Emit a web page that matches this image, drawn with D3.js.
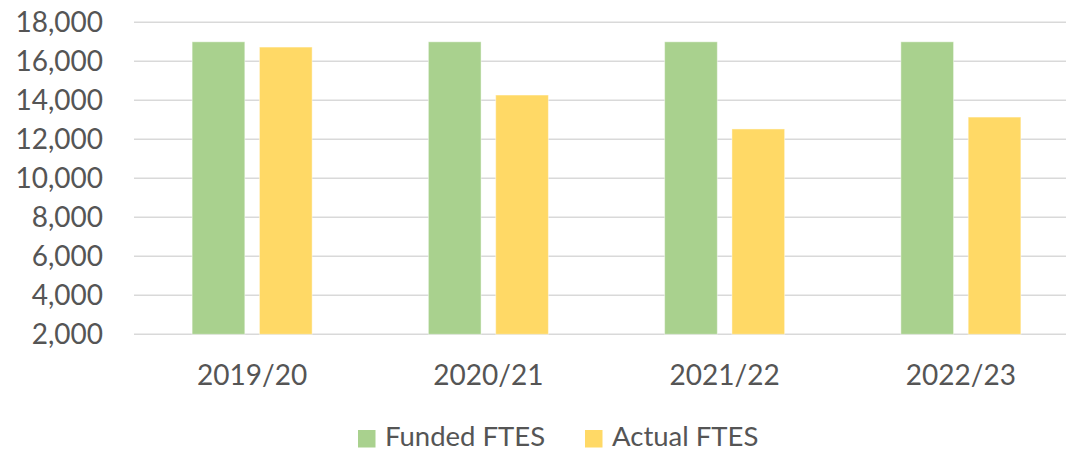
<!DOCTYPE html>
<html>
<head>
<meta charset="utf-8">
<script src="https://cdn.jsdelivr.net/npm/d3@7"></script>
<style>
  body { margin: 0; background: #fff; }
  text { font-family: Lato, "Open Sans", sans-serif; fill: #555555; }
</style>
</head>
<body>
<div id="chart"></div>
<script>
const years = ["2019/20", "2020/21", "2021/22", "2022/23"];
const seriesNames = ["Funded FTES", "Actual FTES"];
const funded = [17000, 17000, 17000, 17000];
const actual = [16730, 14270, 12530, 13140];
const yTicks = [2000, 4000, 6000, 8000, 10000, 12000, 14000, 16000, 18000];

const colors = { "Funded FTES": "#A9D18E", "Actual FTES": "#FFD966" };

const W = 1066, H = 451;
const plot = { left: 134, right: 1079, top: 22.3, bottom: 334.3 };

const svg = d3.select("#chart")
  .append("svg")
  .attr("width", W)
  .attr("height", H);

const x0 = d3.scaleBand()
  .domain(years)
  .range([plot.left, plot.right])
  .paddingInner(0.492)
  .paddingOuter(0.246);

const x1 = d3.scaleBand()
  .domain(seriesNames)
  .range([0, x0.bandwidth()])
  .paddingInner(0.217);

const y = d3.scaleLinear()
  .domain([2000, 18000])
  .range([plot.bottom, plot.top]);

// gridlines
svg.append("g")
  .selectAll("line")
  .data(yTicks)
  .enter()
  .append("line")
  .attr("x1", plot.left)
  .attr("x2", W)
  .attr("y1", d => y(d))
  .attr("y2", d => y(d))
  .attr("stroke", "#d9d9d9")
  .attr("stroke-width", 1.5);

// y labels
svg.append("g")
  .selectAll("text")
  .data(yTicks)
  .enter()
  .append("text")
  .attr("x", 103)
  .attr("y", d => y(d))
  .attr("dy", "0.36em")
  .attr("text-anchor", "end")
  .style("font-size", "28px")
  .text(d => d3.format(",")(d));

const rows = years.map((yr, i) => ({
  year: yr,
  values: [
    { key: "Funded FTES", value: funded[i] },
    { key: "Actual FTES", value: actual[i] }
  ]
}));

const groups = svg.selectAll(".grp")
  .data(rows)
  .enter()
  .append("g")
  .attr("class", "grp")
  .attr("transform", d => `translate(${x0(d.year)},0)`);

groups.selectAll("rect")
  .data(d => d.values)
  .enter()
  .append("rect")
  .attr("x", d => x1(d.key))
  .attr("width", x1.bandwidth())
  .attr("y", d => y(d.value))
  .attr("height", d => y(2000) - y(d.value))
  .attr("fill", d => colors[d.key])
  .attr("stroke", "rgba(255,255,255,0.45)")
  .attr("stroke-width", 1);

// x labels
svg.append("g")
  .selectAll("text")
  .data(years)
  .enter()
  .append("text")
  .attr("x", d => x0(d) + x0.bandwidth() / 2)
  .attr("y", 385)
  .attr("text-anchor", "middle")
  .style("font-size", "28px")
  .text(d => d);

// legend
const legendPos = [358, 585];
const legend = svg.selectAll(".legend")
  .data(seriesNames)
  .enter()
  .append("g")
  .attr("class", "legend")
  .attr("transform", (d, i) => `translate(${legendPos[i]},430)`);

legend.append("rect")
  .attr("width", 17.5)
  .attr("height", 17.5)
  .attr("fill", d => colors[d]);

legend.append("text")
  .attr("x", 27)
  .attr("y", 16)
  .style("font-size", "27.5px")
  .text(d => d);
</script>
</body>
</html>
